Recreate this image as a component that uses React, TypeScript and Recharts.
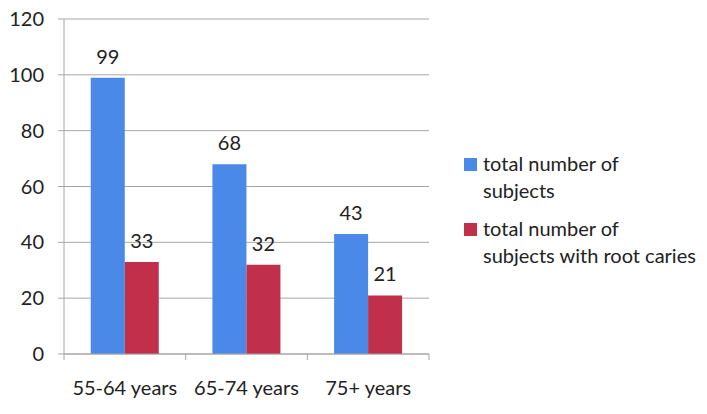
import { BarChart, Bar, XAxis, YAxis, CartesianGrid, Legend, LabelList } from "recharts";

const ageGroups = ["55-64 years", "65-74 years", "75+ years"];
const totalSubjects = [99, 68, 43];
const withRootCaries = [33, 32, 21];
const yTicks = [0, 20, 40, 60, 80, 100, 120];
const seriesLines = [
  ["total number of", "subjects"],
  ["total number of", "subjects with root caries"],
];

const BLUE = "#4a89e8";
const RED = "#c0304a";
const GRID = "#a6a6a6";
const FONT = "Lato, 'Open Sans', sans-serif";
const FS = 20;

const data = ageGroups.map((g, i) => ({
  group: g,
  total: totalSubjects[i],
  caries: withRootCaries[i],
}));

// category label plus the small tick marks at the band edges (Excel style)
function GroupTick(props: any) {
  const { x, y, payload, index, visibleTicksCount } = props;
  const half = payload.offset || 0;
  const last = index === visibleTicksCount - 1;
  return (
    <g>
      <line x1={x - half} x2={x - half} y1={y} y2={y + 6} stroke={GRID} />
      {last && <line x1={x + half} x2={x + half} y1={y} y2={y + 6} stroke={GRID} />}
      <text x={x} y={y + 27} dy="0.71em" textAnchor="middle" fill="#222" fontSize={FS} fontFamily={FONT}>
        {payload.value}
      </text>
    </g>
  );
}

function LegendBox() {
  const colors = [BLUE, RED];
  return (
    <div style={{ fontFamily: FONT, fontSize: FS, color: "#222", lineHeight: "27px" }}>
      {seriesLines.map((lines, i) => (
        <div key={i} style={{ display: "flex", alignItems: "flex-start", marginBottom: i === 0 ? 11 : 0 }}>
          <span
            style={{
              display: "inline-block",
              width: 13,
              height: 13,
              background: colors[i],
              marginTop: 8,
              marginRight: 6,
            }}
          />
          <span>
            {lines.map((l, j) => (
              <div key={j}>{l}</div>
            ))}
          </span>
        </div>
      ))}
    </div>
  );
}

export default function App() {
  return (
    <div style={{ position: "absolute", left: 0, top: 0, background: "#fff" }}>
      <BarChart
        width={707}
        height={414}
        data={data}
        margin={{ top: 19, right: 38, bottom: 30, left: 0 }}
        barCategoryGap="22%"
        barGap={0}
      >
        <CartesianGrid vertical={false} stroke={GRID} />
        <XAxis
          dataKey="group"
          axisLine={{ stroke: GRID }}
          tickLine={false}
          tickSize={0}
          tickMargin={0}
          height={30}
          interval={0}
          tick={<GroupTick />}
        />
        <YAxis
          domain={[0, 120]}
          ticks={yTicks}
          width={64}
          axisLine={{ stroke: GRID }}
          tickLine={{ stroke: GRID }}
          tickSize={6}
          tickMargin={14}
          tick={{ fill: "#222", fontSize: FS, fontFamily: FONT }}
        />
        <Legend
          layout="vertical"
          align="right"
          verticalAlign="top"
          content={() => <LegendBox />}
          wrapperStyle={{ left: 464, top: 150, width: 240 }}
        />
        <Bar dataKey="total" fill={BLUE} isAnimationActive={false}>
          <LabelList dataKey="total" position="top" offset={14} fill="#222" fontSize={FS} fontFamily={FONT} />
        </Bar>
        <Bar dataKey="caries" fill={RED} isAnimationActive={false}>
          <LabelList dataKey="caries" position="top" offset={14} fill="#222" fontSize={FS} fontFamily={FONT} />
        </Bar>
      </BarChart>
    </div>
  );
}
